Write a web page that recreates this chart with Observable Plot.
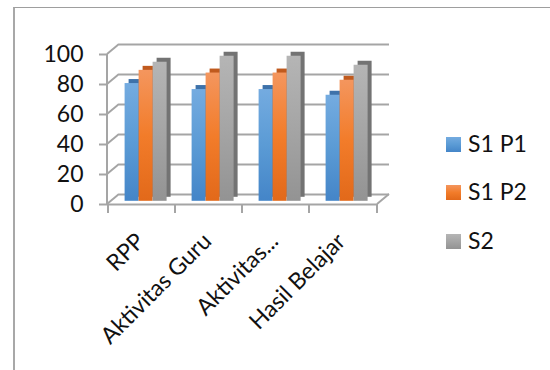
<!DOCTYPE html>
<html>
<head>
<meta charset="utf-8">
<script src="https://cdn.jsdelivr.net/npm/d3@7"></script>
<script src="https://cdn.jsdelivr.net/npm/@observablehq/plot@0.6"></script>
<style>
  html, body { margin: 0; padding: 0; background: #fff; }
  #wrap { position: relative; width: 550px; height: 370px; overflow: hidden; font-family: Lato, sans-serif; background: #fff; }
  #border { position: absolute; left: 13px; top: 7px; width: 700px; height: 500px; border-top: 1px solid #9e9e9e; border-left: 2px solid #a8a8a8; }
  #wrap > svg { position: absolute; left: 0; top: 0; }
  #legend { position: absolute; left: 446px; top: 119px; }
  #legend .row { display: flex; align-items: center; height: 48.3px; font-size: 23px; color: #111; }
  #legend .sw { width: 15px; height: 15px; margin-right: 7px; margin-top: 3px; }
</style>
</head>
<body>
<div id="wrap"><div id="border"></div></div>
<script>
// ---- data ----
const categories = ["RPP", "Aktivitas Guru", "Aktivitas...", "Hasil Belajar"];
const seriesNames = ["S1 P1", "S1 P2", "S2"];
const s1p1 = [78.5, 74.5, 74.5, 70.7];
const s1p2 = [87.3, 85.5, 85.5, 80.7];
const s2   = [92.7, 96.7, 96.7, 90.7];
const yTicks = [0, 20, 40, 60, 80, 100];

// ---- style ----
const gradStops = [
  ["#74abe0", "#5b9bd5", "#4485c8"],
  ["#f4965e", "#f27c2a", "#e2691a"],
  ["#b5b5b5", "#a5a5a5", "#939393"]
];
const capColors = ["#3e72aa", "#c05a1e", "#737373"];
const GRID = "#a5a5a5";
const WALL_DX = 12, WALL_DY = -10;   // depth of the 3D walls
const BAR_DX = 3.6, BAR_DY = -3.2;   // bar front plane
const BAR_DEPTH = 4;                  // bar thickness
const FONT = "Lato, sans-serif";

const table = categories.flatMap((c, i) =>
  seriesNames.map((s, j) => ({category: c, series: s, value: [s1p1, s1p2, s2][j][i]}))
);

// gradient defs
const defs = d3.select("body").append("svg")
  .attr("width", 0).attr("height", 0)
  .style("position", "absolute").append("defs");
gradStops.forEach((st, j) => {
  const lg = defs.append("linearGradient").attr("id", "grad" + j)
    .attr("x1", 0).attr("y1", 0).attr("x2", 0).attr("y2", 1);
  st.forEach((c, k) => lg.append("stop").attr("offset", k / (st.length - 1)).attr("stop-color", c));
});

const common = {
  width: 550, height: 370,
  marginLeft: 107, marginRight: 173, marginTop: 54, marginBottom: 166,
  style: {fontFamily: FONT, background: "transparent", overflow: "visible"}
};

function frame3d(index, scales, values, dims) {
  const y = scales.y, x = scales.x;
  const x0 = dims.marginLeft, x1 = dims.width - dims.marginRight;
  const g = d3.create("svg:g").attr("stroke", GRID).attr("stroke-width", 2).attr("fill", "none");
  for (const t of yTicks) {
    g.append("line").attr("x1", x0).attr("y1", y(t)).attr("x2", x0 + WALL_DX).attr("y2", y(t) + WALL_DY);
  }
  g.append("line").attr("x1", x0).attr("x2", x0).attr("y1", y(0)).attr("y2", y(100));
  g.append("line").attr("x1", x1).attr("y1", y(0)).attr("x2", x1 + WALL_DX).attr("y2", y(0) + WALL_DY);
  const bounds = categories.map(c => x(c)).concat([x1]);
  for (const b of bounds) {
    g.append("line").attr("x1", b).attr("x2", b).attr("y1", y(0)).attr("y2", y(0) + 9);
  }
  return g.node();
}

const bg = Plot.plot({
  ...common,
  x: {type: "band", domain: categories, padding: 0, axis: null},
  y: {domain: [0, 100], axis: null},
  marks: [
    Plot.ruleY(yTicks, {dx: WALL_DX, dy: WALL_DY, stroke: GRID, strokeWidth: 2}),
    Plot.ruleY([0], {stroke: GRID, strokeWidth: 2}),
    frame3d,
    Plot.axisY({ticks: yTicks, tickSize: 8, tickPadding: 16, fontSize: 23, stroke: GRID, strokeWidth: 2, fill: "#111", label: null, tickFormat: d => d}),
    Plot.text(categories, {x: d => d, frameAnchor: "bottom", rotate: -45, textAnchor: "end", lineAnchor: "middle",
      dx: -1.5, dy: 33, fontSize: 23, fill: "#111"})
  ]
});

const barMarks = [];
seriesNames.forEach((s, j) => {
  barMarks.push(Plot.barY(table.filter(d => d.series === s), {
    fx: "category", x: "series", y: "value", fill: capColors[j],
    dx: BAR_DX + BAR_DEPTH, dy: BAR_DY - BAR_DEPTH
  }));
});
seriesNames.forEach((s, j) => {
  barMarks.push(Plot.barY(table.filter(d => d.series === s), {
    fx: "category", x: "series", y: "value", fill: `url(#grad${j})`,
    dx: BAR_DX, dy: BAR_DY
  }));
});

const bars = Plot.plot({
  ...common,
  fx: {domain: categories, padding: 0, axis: null, label: null},
  x: {domain: seriesNames, paddingInner: 0, paddingOuter: 0.735, axis: null},
  y: {domain: [0, 100], axis: null},
  marks: barMarks
});

const wrap = document.getElementById("wrap");
wrap.appendChild(bg);
wrap.appendChild(bars);

const legend = d3.select("#wrap").append("div").attr("id", "legend");
seriesNames.forEach((s, j) => {
  const row = legend.append("div").attr("class", "row");
  row.append("span").attr("class", "sw").style("background", `linear-gradient(${gradStops[j].join(",")})`);
  row.append("span").text(s);
});
</script>
</body>
</html>
